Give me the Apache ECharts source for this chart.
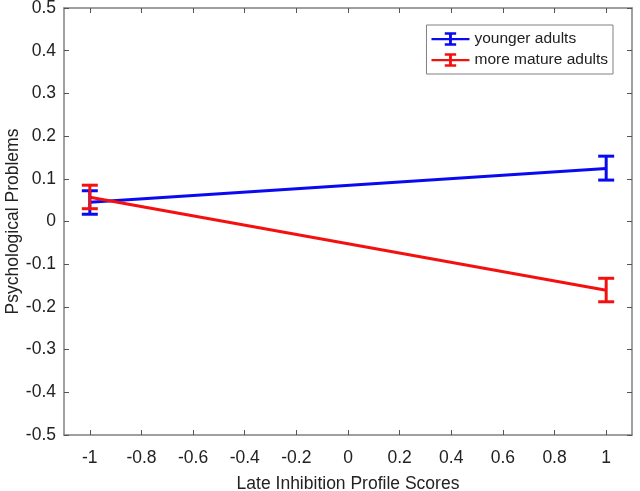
<!DOCTYPE html>
<html>
<head>
<meta charset="utf-8">
<script src="https://cdn.jsdelivr.net/npm/echarts@6/dist/echarts.min.js"></script>
<style>
  html, body { margin: 0; padding: 0; background: #fff; }
  #chart { width: 640px; height: 491px; }
</style>
</head>
<body>
<div id="chart"></div>
<script>
// data
const xPoints = [-1, 1]
const youngMean = [0.045, 0.124]
const youngLow = [0.017, 0.097]
const youngHigh = [0.072, 0.153]
const matureMean = [0.057, -0.161]
const matureLow = [0.030, -0.188]
const matureHigh = [0.085, -0.133]
const xTicks = [-1, -0.8, -0.6, -0.4, -0.2, 0, 0.2, 0.4, 0.6, 0.8, 1]

const BLUE = '#0a0af0'
const RED = '#f51010'
const font = 'Liberation Sans, Arial, sans-serif'
const legendIcon = 'path://M0,6h40v2.4h-40z M18.5,1h3v12h-3z M14,0h12v2.4h-12z M14,11.6h12v2.4h-12z'

function errorSeries(name, lo, hi, color) {
  return {
    name: name,
    type: 'custom',
    xAxisIndex: 0,
    yAxisIndex: 0,
    data: xPoints.map((x, i) => [x, lo[i], hi[i]]),
    renderItem: (params, api) => {
      const top = api.coord([api.value(0), api.value(2)])
      const bot = api.coord([api.value(0), api.value(1)])
      const hw = 8
      const style = { stroke: color, lineWidth: 3 }
      return {
        type: 'group',
        children: [
          { type: 'line', shape: { x1: top[0], y1: top[1], x2: bot[0], y2: bot[1] }, style },
          { type: 'line', shape: { x1: top[0] - hw, y1: top[1], x2: top[0] + hw, y2: top[1] }, style },
          { type: 'line', shape: { x1: bot[0] - hw, y1: bot[1], x2: bot[0] + hw, y2: bot[1] }, style }
        ]
      }
    },
    z: 3
  }
}

const chart = echarts.init(document.getElementById('chart'))

const axisLine = { show: true, onZero: false, lineStyle: { color: '#808080', width: 1.5 } }
const tick = { inside: true, length: 5, lineStyle: { color: '#555' } }

chart.setOption({
  animation: false,
  textStyle: { fontFamily: font },
  grid: { left: 64, right: 8, top: 8, bottom: 56, containLabel: false, outerBoundsMode: 'none' },
  legend: {
    right: 27,
    top: 25,
    orient: 'vertical',
    backgroundColor: '#fff',
    borderColor: '#808080',
    borderWidth: 1,
    borderRadius: 0,
    padding: [6, 5, 6, 5],
    itemGap: 5,
    itemWidth: 38,
    itemHeight: 14,
    textStyle: { fontSize: 15.5, color: '#222', fontFamily: font },
    data: [
      { name: 'younger adults', icon: legendIcon, itemStyle: { color: BLUE } },
      { name: 'more mature adults', icon: legendIcon, itemStyle: { color: RED } }
    ]
  },
  xAxis: [
    {
      type: 'value',
      min: -1.1,
      max: 1.1,
      position: 'bottom',
      name: 'Late Inhibition Profile Scores',
      nameLocation: 'middle',
      nameGap: 40,
      nameMoveOverlap: false,
      nameTextStyle: { fontSize: 17.5, color: '#222', fontFamily: font },
      axisLine: axisLine,
      axisTick: Object.assign({ customValues: xTicks }, tick),
      axisLabel: { customValues: xTicks, fontSize: 17.5, color: '#222', margin: 14, fontFamily: font },
      splitLine: { show: false }
    },
    {
      type: 'value',
      min: -1.1,
      max: 1.1,
      position: 'top',
      axisLine: axisLine,
      axisTick: Object.assign({ customValues: xTicks }, tick),
      axisLabel: { show: false },
      splitLine: { show: false }
    }
  ],
  yAxis: [
    {
      type: 'value',
      min: -0.5,
      max: 0.5,
      interval: 0.1,
      position: 'left',
      name: 'Psychological Problems',
      nameLocation: 'middle',
      nameGap: 42,
      nameMoveOverlap: false,
      nameTextStyle: { fontSize: 17.5, color: '#222', fontFamily: font },
      axisLine: axisLine,
      axisTick: tick,
      axisLabel: { fontSize: 17.5, color: '#222', margin: 8, fontFamily: font,
        formatter: v => String(Math.round(v * 10) / 10) },
      splitLine: { show: false }
    },
    {
      type: 'value',
      min: -0.5,
      max: 0.5,
      interval: 0.1,
      position: 'right',
      axisLine: axisLine,
      axisTick: tick,
      axisLabel: { show: false },
      splitLine: { show: false }
    }
  ],
  series: [
    {
      name: 'younger adults',
      type: 'line',
      data: xPoints.map((x, i) => [x, youngMean[i]]),
      symbol: 'none',
      lineStyle: { color: BLUE, width: 3 },
      itemStyle: { color: BLUE },
      z: 2
    },
    {
      name: 'more mature adults',
      type: 'line',
      data: xPoints.map((x, i) => [x, matureMean[i]]),
      symbol: 'none',
      lineStyle: { color: RED, width: 3 },
      itemStyle: { color: RED },
      z: 2
    },
    errorSeries('younger adults', youngLow, youngHigh, BLUE),
    errorSeries('more mature adults', matureLow, matureHigh, RED)
  ]
})
</script>
</body>
</html>
